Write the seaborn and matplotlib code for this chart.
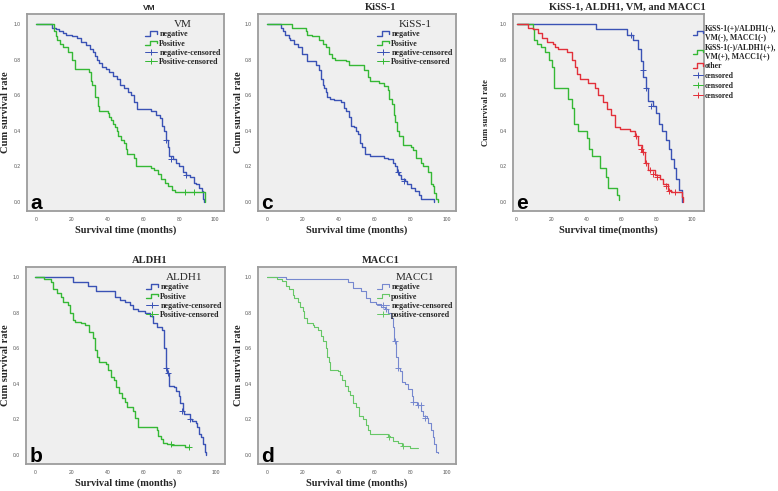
import numpy as np
import pandas as pd
import matplotlib
matplotlib.use("Agg")
import matplotlib.pyplot as plt
from matplotlib.lines import Line2D
from matplotlib.legend_handler import HandlerBase
import seaborn as sns

# ---- data (time in months, cumulative survival) ----
VM_NEG_T = [0, 9, 11, 13, 15, 17, 20, 23, 25, 28, 30, 32, 33, 34, 35, 37, 39, 41, 43, 45,
            47, 49, 51.5, 53, 55, 56.5, 64.5, 67, 69, 70.5, 71.5, 72.5, 73.5, 74.5, 76.5, 78,
            80, 82, 84, 86, 88, 89.5, 91, 92.5, 93.5, 94]
VM_NEG_S = [1.0, 0.98, 0.97, 0.96, 0.95, 0.94, 0.93, 0.92, 0.90, 0.88, 0.86, 0.84, 0.82, 0.80,
            0.78, 0.76, 0.75, 0.73, 0.71, 0.69, 0.66, 0.64, 0.62, 0.60, 0.56, 0.52, 0.51, 0.49,
            0.47, 0.43, 0.40, 0.35, 0.31, 0.26, 0.24, 0.22, 0.20, 0.17, 0.15, 0.14, 0.11, 0.10,
            0.08, 0.06, 0.02, 0.0]
VM_POS_T = [0, 10, 11, 12, 13.5, 15, 18, 20, 22, 29.5, 30.5, 31.5, 33, 34.5, 35, 40, 41, 42,
            43, 44, 45, 46, 47.5, 49, 50, 51, 55, 56, 64, 66, 68, 70, 72, 74, 76, 77.5, 94.5]
VM_POS_S = [1.0, 0.96, 0.93, 0.91, 0.89, 0.87, 0.84, 0.80, 0.745, 0.73, 0.68, 0.66, 0.59, 0.54,
            0.51, 0.50, 0.48, 0.46, 0.44, 0.42, 0.40, 0.37, 0.35, 0.33, 0.30, 0.27, 0.25, 0.20,
            0.19, 0.18, 0.16, 0.13, 0.11, 0.09, 0.07, 0.055, 0.0]
VM_NEG_CENS = ([72.5, 75.5, 84], [0.35, 0.24, 0.15])
VM_POS_CENS = ([83, 88], [0.055, 0.055])

KISS_NEG_T = [0, 8, 9, 10, 12, 13, 15, 17, 19.5, 22, 27, 29, 30, 31, 31.7, 32.6, 33.5, 35, 37,
              41, 42.8, 44, 45.6, 46.5, 48.4, 49.3, 50.6, 51.8, 53, 54.5, 57, 65, 67, 70, 71.3,
              72.3, 73.6, 74.5, 76.4, 78, 80, 82, 84.7, 85.7, 93]
KISS_NEG_S = [1.0, 0.98, 0.96, 0.94, 0.92, 0.91, 0.89, 0.87, 0.83, 0.79, 0.77, 0.74, 0.69, 0.66,
              0.64, 0.62, 0.59, 0.58, 0.575, 0.56, 0.53, 0.51, 0.48, 0.43, 0.42, 0.40, 0.38,
              0.33, 0.31, 0.27, 0.26, 0.25, 0.24, 0.22, 0.20, 0.17, 0.15, 0.13, 0.12, 0.10,
              0.08, 0.06, 0.04, 0.02, 0.0]
KISS_POS_T = [0, 14, 21.4, 22.3, 25, 29, 31, 32.6, 34.5, 36.3, 38, 43.8, 45.6, 54, 55.9, 57,
              62.4, 65, 67, 68, 69.4, 70.4, 71.1, 72.3, 73.5, 75.4, 80, 81, 82.9, 85.7, 86.6,
              89.4, 91.2, 92, 93, 94, 95]
KISS_POS_S = [1.0, 0.98, 0.96, 0.94, 0.93, 0.91, 0.89, 0.87, 0.83, 0.81, 0.80, 0.79, 0.77,
              0.74, 0.70, 0.68, 0.67, 0.65, 0.63, 0.58, 0.55, 0.49, 0.45, 0.40, 0.37, 0.32,
              0.31, 0.29, 0.25, 0.22, 0.20, 0.17, 0.10, 0.09, 0.05, 0.02, 0.0]
KISS_NEG_CENS = ([72.5, 76], [0.17, 0.12])

COMB_HI_T = [0, 45.2, 63, 66.5, 69.3, 70.8, 72.1, 73.7, 75, 77.5, 79.4, 81.2, 83.1, 85.4,
             86.9, 88.2, 89.8, 91.1, 92.6, 94, 94.5]
COMB_HI_S = [1.0, 0.97, 0.94, 0.91, 0.86, 0.79, 0.70, 0.64, 0.57, 0.54, 0.50, 0.44, 0.40,
             0.35, 0.30, 0.24, 0.19, 0.13, 0.07, 0.03, 0.0]
COMB_LO_T = [0, 9.6, 10.2, 11.5, 13.7, 16.2, 18.7, 20, 21.5, 29.5, 31.4, 32.7, 35.2, 39.9,
             41.2, 42.8, 47.5, 50.9, 52.2, 57, 58.5]
COMB_LO_S = [1.0, 0.97, 0.91, 0.89, 0.87, 0.84, 0.80, 0.76, 0.64, 0.58, 0.53, 0.44, 0.40,
             0.36, 0.30, 0.26, 0.19, 0.14, 0.08, 0.04, 0.01]
COMB_OTH_T = [0, 6.7, 9.6, 12.4, 14.3, 17.2, 20.6, 21.9, 23.8, 28.5, 31.4, 33.3, 34.6, 36.1,
              40.9, 44.6, 46.5, 49.4, 51.3, 54.1, 56, 58.9, 64.5, 67.4, 69.3, 71.2, 73.1, 75,
              78.8, 81.6, 83.5, 86.4, 88.2, 94, 95]
COMB_OTH_S = [1.0, 0.98, 0.97, 0.95, 0.92, 0.90, 0.89, 0.87, 0.86, 0.84, 0.80, 0.76, 0.72,
              0.69, 0.67, 0.64, 0.60, 0.56, 0.52, 0.49, 0.42, 0.41, 0.40, 0.37, 0.32, 0.28,
              0.22, 0.18, 0.15, 0.13, 0.10, 0.07, 0.055, 0.03, 0.0]
COMB_HI_CENS = ([65, 72, 74, 76.5], [0.94, 0.74, 0.64, 0.54])
COMB_OTH_CENS = ([68, 71, 72, 73.5, 76, 78, 80, 85, 87, 90],
                 [0.37, 0.30, 0.28, 0.22, 0.18, 0.16, 0.14, 0.09, 0.065, 0.055])

ALDH_NEG_T = [0, 21.2, 29.2, 33.8, 44, 46.8, 49.6, 52.4, 54.3, 57, 60.8, 63.6, 65.4, 67.3, 70,
              71.4, 72.3, 73.2, 74.3, 76.6, 78, 79.4, 80.3, 81.8, 82.5, 85.5, 86.8, 88.7, 89.6,
              90.9, 91.8, 92.9, 93.9, 94.5]
ALDH_NEG_S = [1.0, 0.97, 0.95, 0.92, 0.89, 0.87, 0.86, 0.84, 0.82, 0.81, 0.80, 0.78, 0.74,
              0.72, 0.70, 0.60, 0.49, 0.46, 0.39, 0.38, 0.36, 0.33, 0.29, 0.25, 0.23, 0.20,
              0.19, 0.18, 0.16, 0.12, 0.10, 0.06, 0.02, 0.0]
ALDH_POS_T = [0, 5, 8.7, 10, 11.9, 14.3, 15.2, 18, 19.5, 20.8, 22.3, 25.5, 27.7, 30.1, 32, 33,
              34.4, 35.1, 39.4, 40.3, 42.2, 43.5, 45, 46.5, 47.8, 49.6, 50.6, 54.3, 55.2, 57,
              67.3, 68.2, 69.5, 70.6, 72.9, 75.1, 83.1, 85]
ALDH_POS_S = [1.0, 0.99, 0.97, 0.93, 0.91, 0.89, 0.86, 0.84, 0.80, 0.76, 0.75, 0.74, 0.73,
              0.69, 0.66, 0.59, 0.55, 0.52, 0.51, 0.48, 0.44, 0.42, 0.38, 0.35, 0.32, 0.30,
              0.27, 0.25, 0.21, 0.16, 0.14, 0.11, 0.09, 0.07, 0.06, 0.055, 0.045, 0.045]
ALDH_NEG_CENS = ([72.4, 73.3, 81.2, 85.9], [0.49, 0.46, 0.25, 0.20])
ALDH_POS_CENS = ([75, 85], [0.06, 0.045])

MACC_NEG_T = [0, 10.4, 45, 47.8, 52.4, 54.9, 57.1, 60.8, 63.6, 65.5, 67.4, 68.7, 69.8, 70.5,
              71.5, 72.6, 73.9, 74.8, 76.7, 78.5, 80.4, 81.3, 83.2, 85.6, 86.9, 88.8, 89.7, 91,
              92.2, 92.9, 94, 95]
MACC_NEG_S = [1.0, 0.99, 0.97, 0.94, 0.92, 0.88, 0.86, 0.85, 0.83, 0.82, 0.80, 0.77, 0.72,
              0.64, 0.55, 0.49, 0.47, 0.41, 0.40, 0.37, 0.33, 0.30, 0.28, 0.25, 0.22, 0.21,
              0.18, 0.14, 0.10, 0.06, 0.02, 0.01]
MACC_POS_T = [0, 5.8, 8.6, 10.4, 12.3, 14.2, 15.1, 17, 18.3, 19.8, 20.7, 22, 25.4, 26.3, 28.2,
              30, 31, 32.5, 33.4, 34.3, 35, 39.4, 40.3, 41.8, 43.1, 45, 45.9, 47.8, 49.6, 51.1,
              53.4, 54.9, 56.2, 57.1, 67.4, 68.3, 69.8, 73, 74.8, 79.5, 84]
MACC_POS_S = [1.0, 0.99, 0.98, 0.95, 0.93, 0.90, 0.88, 0.86, 0.83, 0.81, 0.77, 0.74, 0.73,
              0.72, 0.70, 0.67, 0.64, 0.60, 0.55, 0.52, 0.48, 0.47, 0.45, 0.42, 0.39, 0.36,
              0.34, 0.29, 0.27, 0.22, 0.20, 0.17, 0.14, 0.12, 0.11, 0.10, 0.08, 0.07, 0.05,
              0.04, 0.04]
MACC_NEG_CENS = ([66, 71, 73, 81, 84, 85.5, 88], [0.82, 0.64, 0.49, 0.30, 0.28, 0.28, 0.21])
MACC_POS_CENS = ([68, 75.5], [0.10, 0.05])

X_TICKS = [0, 20, 40, 60, 80, 100]
Y_TICKS = [0.0, 0.2, 0.4, 0.6, 0.8, 1.0]

BLUE, GREEN, RED = "#3a52b5", "#35b835", "#e2303a"
BLUE_L, GREEN_L = "#7688cf", "#66c766"

sns.set_style("white")
plt.rcParams["font.family"] = ["Liberation Serif", "DejaVu Serif"]
SERIF = "Liberation Serif"
SANS = "Liberation Sans"


class StepHandler(HandlerBase):
    # SPSS-style step icon for the legend
    def create_artists(self, legend, orig_handle, xdescent, ydescent, width, height,
                       fontsize, trans):
        x0, y0 = -xdescent, -ydescent
        xs = [x0, x0 + 0.45 * width, x0 + 0.45 * width, x0 + width, x0 + width]
        ys = [y0 + 0.1 * height, y0 + 0.1 * height, y0 + 0.9 * height,
              y0 + 0.9 * height, y0 + 0.45 * height]
        ln = Line2D(xs, ys, color=orig_handle.get_color(), lw=orig_handle.get_linewidth())
        ln.set_transform(trans)
        return [ln]


def km_curve(ax, t, s, color, lw=1.0):
    df = pd.DataFrame({"t": t, "s": s})
    sns.lineplot(data=df, x="t", y="s", ax=ax, color=color, linewidth=lw,
                 drawstyle="steps-post", estimator=None, sort=False, legend=False)


def censor(ax, cens, color):
    sns.scatterplot(x=cens[0], y=cens[1], ax=ax, marker="+", s=16, color=color,
                    linewidth=0.7, legend=False, zorder=3)


def style_axes(ax, title, letter, title_font=SERIF, xlab="Survival time (months)",
               ylab_size=7.6, ylab_x=-0.086, xlim=(-5, 105)):
    ax.set_facecolor("#efefef")
    for sp in ax.spines.values():
        sp.set_color("#9c9c9c")
        sp.set_linewidth(1.3)
    ax.set_xlim(*xlim)
    ax.set_ylim(-0.05, 1.056)
    ax.set_xticks(X_TICKS)
    ax.set_yticks(Y_TICKS)
    ax.set_xticklabels([str(v) for v in X_TICKS], fontfamily=SANS)
    ax.set_yticklabels([f"{v:.1f}" for v in Y_TICKS], fontfamily=SANS)
    ax.tick_params(axis="both", length=2.5, width=0.6, color="#777777", labelsize=3.6,
                   labelcolor="#555555", pad=2, direction="out")
    ax.set_xlabel(xlab, fontsize=7.4, fontweight="bold")
    ax.xaxis.set_label_coords(0.5, -0.072)
    # ylabel anchor is the right-hand edge of the rotated text
    ax.set_ylabel("Cum survival rate", fontsize=ylab_size, fontweight="bold")
    ax.yaxis.set_label_coords(ylab_x, 0.5)
    if title_font == SANS:
        ax.set_title(title, fontsize=6, fontweight="bold", fontfamily=SANS, x=0.62, pad=3)
    else:
        ax.set_title(title, fontsize=7.6, fontweight="bold", x=0.62, pad=3)
    ax.text(0.018, 0.012, letter, transform=ax.transAxes, fontsize=15, fontweight="bold",
            fontfamily=SANS, ha="left", va="baseline", color="black")


def two_group_legend(ax, title, neg, pos, c_neg, c_pos, lw=1.0):
    h1 = Line2D([], [], color=c_neg, lw=lw)
    h2 = Line2D([], [], color=c_pos, lw=lw)
    h3 = Line2D([], [], color=c_neg, lw=0.7, marker="+", markersize=5, markeredgewidth=0.7)
    h4 = Line2D([], [], color=c_pos, lw=0.7, marker="+", markersize=5, markeredgewidth=0.7)
    leg = ax.legend([h1, h2, h3, h4],
                    [neg, pos, f"{neg}-censored", f"{pos}-censored"],
                    handler_map={h1: StepHandler(), h2: StepHandler()},
                    loc="upper right", bbox_to_anchor=(1.0, 0.985), frameon=False,
                    title=title, title_fontproperties={"family": SERIF, "size": 8},
                    prop={"family": SERIF, "weight": "bold", "size": 5.8},
                    handlelength=1.4, handletextpad=0.35, labelspacing=0.15,
                    borderaxespad=0.2, borderpad=0.2)
    return leg


fig = plt.figure(figsize=(7.78, 4.91), dpi=100)
H = 197 / 491
ax_a = fig.add_axes([27 / 778, 1 - 211 / 491, 197 / 778, H])
ax_c = fig.add_axes([258 / 778, 1 - 211 / 491, 198 / 778, H])
ax_e = fig.add_axes([513 / 778, 1 - 211 / 491, 191 / 778, H])
ax_b = fig.add_axes([26 / 778, 1 - 464 / 491, 199 / 778, H])
ax_d = fig.add_axes([258 / 778, 1 - 464 / 491, 198 / 778, H])

# a: VM
km_curve(ax_a, VM_NEG_T, VM_NEG_S, BLUE)
km_curve(ax_a, VM_POS_T, VM_POS_S, GREEN)
censor(ax_a, VM_NEG_CENS, BLUE)
censor(ax_a, VM_POS_CENS, GREEN)
style_axes(ax_a, "VM", "a", title_font=SANS, ylab_x=-0.086)
two_group_legend(ax_a, "VM", "negative", "Positive", BLUE, GREEN)

# c: KiSS-1
km_curve(ax_c, KISS_NEG_T, KISS_NEG_S, BLUE)
km_curve(ax_c, KISS_POS_T, KISS_POS_S, GREEN)
censor(ax_c, KISS_NEG_CENS, BLUE)
style_axes(ax_c, "KiSS-1", "c", ylab_x=-0.076)
two_group_legend(ax_c, "KiSS-1", "negative", "Positive", BLUE, GREEN)

# e: combined
km_curve(ax_e, COMB_HI_T, COMB_HI_S, BLUE)
km_curve(ax_e, COMB_LO_T, COMB_LO_S, GREEN)
km_curve(ax_e, COMB_OTH_T, COMB_OTH_S, RED)
censor(ax_e, COMB_HI_CENS, BLUE)
censor(ax_e, COMB_OTH_CENS, RED)
style_axes(ax_e, "KiSS-1, ALDH1, VM, and MACC1", "e", xlab="Survival time(months)",
           ylab_size=6.2, ylab_x=-0.12, xlim=(-2, 106.8))
ax_e.title.set_x(0.6)
hs = [Line2D([], [], color=c, lw=1.0) for c in (BLUE, GREEN, RED)]
hc = [Line2D([], [], color=c, lw=0.7, marker="+", markersize=5, markeredgewidth=0.7)
      for c in (BLUE, GREEN, RED)]
ax_e.legend(hs + hc,
            ["KiSS-1(+)/ALDH1(-),\nVM(-), MACC1(-)", "KiSS-1(-)/ALDH1(+),\nVM(+), MACC1(+)",
             "other", "censored", "censored", "censored"],
            handler_map={h: StepHandler() for h in hs},
            loc="upper left", bbox_to_anchor=(0.94, 0.95), frameon=False,
            prop={"family": SERIF, "weight": "bold", "size": 5.6},
            handlelength=1.3, handletextpad=0.3, labelspacing=0.25,
            borderaxespad=0.0, borderpad=0.0)

# b: ALDH1
km_curve(ax_b, ALDH_NEG_T, ALDH_NEG_S, BLUE)
km_curve(ax_b, ALDH_POS_T, ALDH_POS_S, GREEN)
censor(ax_b, ALDH_NEG_CENS, BLUE)
censor(ax_b, ALDH_POS_CENS, GREEN)
style_axes(ax_b, "ALDH1", "b", ylab_x=-0.08)
two_group_legend(ax_b, "ALDH1", "negative", "Positive", BLUE, GREEN)

# d: MACC1
km_curve(ax_d, MACC_NEG_T, MACC_NEG_S, BLUE_L, lw=0.8)
km_curve(ax_d, MACC_POS_T, MACC_POS_S, GREEN_L, lw=0.8)
censor(ax_d, MACC_NEG_CENS, BLUE_L)
censor(ax_d, MACC_POS_CENS, GREEN_L)
style_axes(ax_d, "MACC1", "d", ylab_x=-0.076)
two_group_legend(ax_d, "MACC1", "negative", "positive", BLUE_L, GREEN_L, lw=0.8)

fig.savefig("out.png", dpi=100)
